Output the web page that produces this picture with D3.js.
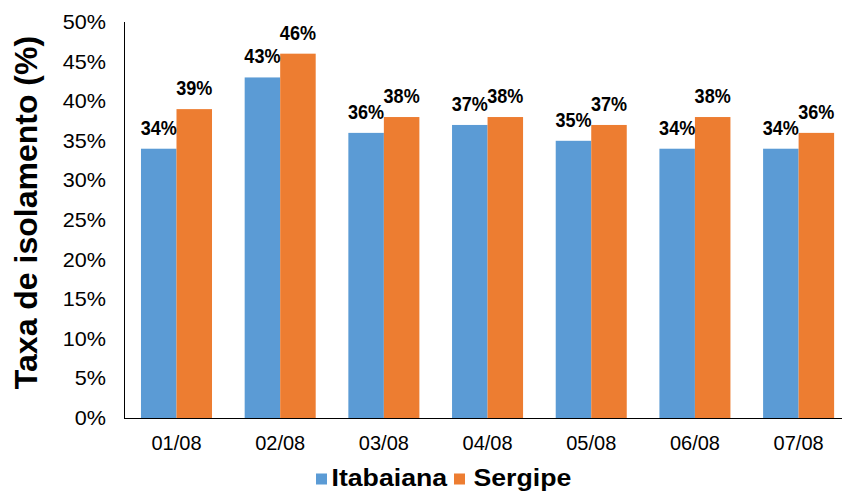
<!DOCTYPE html>
<html>
<head>
<meta charset="utf-8">
<script src="https://cdn.jsdelivr.net/npm/d3@7"></script>
<style>
  html, body { margin: 0; padding: 0; background: #fff; }
  svg { display: block; font-family: "Liberation Sans", Arial, sans-serif; }
</style>
</head>
<body>
<svg id="chart" width="842" height="492"></svg>
<script>
const categories = ["01/08", "02/08", "03/08", "04/08", "05/08", "06/08", "07/08"];
const seriesNames = ["Itabaiana", "Sergipe"];
const itabaiana = [34, 43, 36, 37, 35, 34, 34];
const sergipe = [39, 46, 38, 38, 37, 38, 36];
const yTicks = [0, 5, 10, 15, 20, 25, 30, 35, 40, 45, 50];
const colors = ["#5B9BD5", "#ED7D31"];

const svg = d3.select("#chart");
const values = [itabaiana, sergipe];

const x0 = d3.scaleBand().domain(categories).range([124.6, 850.5])
  .paddingInner(0.315).paddingOuter(0.158);
const x1 = d3.scaleBand().domain(seriesNames).range([0, x0.bandwidth()]);
const y = d3.scaleLinear().domain([0, 50]).range([418, 22]);

// Y tick labels
const yAxis = d3.axisLeft(y).tickValues(yTicks).tickFormat(d => d + "%").tickSize(0).tickPadding(0);
const gy = svg.append("g").attr("transform", "translate(106,0)").call(yAxis);
gy.select(".domain").remove();
gy.selectAll(".tick").attr("transform", null);
gy.selectAll("text")
  .attr("font-size", 20).attr("fill", "#000")
  .attr("font-family", "Liberation Sans, Arial, sans-serif")
  .attr("x", 0).attr("y", 0).attr("dy", "0.35em")
  .attr("transform", d => `translate(0,${y(d)}) scale(1.08,1)`);

// X tick labels
const xAxis = d3.axisBottom(x0).tickSize(0).tickPadding(0);
const gx = svg.append("g").attr("transform", "translate(0,418)").call(xAxis);
gx.select(".domain").remove();
gx.selectAll("text")
  .attr("font-size", 20).attr("fill", "#000")
  .attr("font-family", "Liberation Sans, Arial, sans-serif")
  .attr("y", 32).attr("dy", null);

// Bars
const groups = svg.append("g").selectAll("g")
  .data(categories).join("g")
  .attr("transform", d => `translate(${x0(d)},0)`);

groups.selectAll("rect")
  .data((d, i) => seriesNames.map((s, k) => ({ s, v: values[k][i], k })))
  .join("rect")
  .attr("x", d => x1(d.s))
  .attr("y", d => y(d.v))
  .attr("width", x1.bandwidth())
  .attr("height", d => y(0) - y(d.v))
  .attr("fill", d => colors[d.k]);

// Data labels
groups.selectAll("text.lbl")
  .data((d, i) => seriesNames.map((s, k) => ({ s, v: values[k][i], k })))
  .join("text")
  .attr("class", "lbl")
  .attr("text-anchor", "middle")
  .attr("font-weight", "bold")
  .attr("font-size", 21)
  .attr("fill", "#000")
  .attr("transform", d => `translate(${x1(d.s) + x1.bandwidth() / 2},${y(d.v) - 14}) scale(0.86,1)`)
  .text(d => d.v + "%");

// Axis lines
svg.append("line").attr("x1", 124.5).attr("x2", 124.5).attr("y1", y(50)).attr("y2", y(0) + 0.5)
  .attr("stroke", "#000").attr("stroke-width", 1);
svg.append("line").attr("x1", 124).attr("x2", 842).attr("y1", y(0) + 0.5).attr("y2", y(0) + 0.5)
  .attr("stroke", "#000").attr("stroke-width", 1);

// Y title
svg.append("text")
  .attr("transform", "translate(37,212.5) rotate(-90)")
  .attr("text-anchor", "middle")
  .attr("font-weight", "bold")
  .attr("font-size", 32)
  .attr("fill", "#000")
  .text("Taxa de isolamento (%)");

// Legend
const legendX = [316, 454];
const legendTextX = [331.5, 473.5];
const legend = svg.append("g");
seriesNames.forEach((s, k) => {
  legend.append("rect").attr("x", legendX[k]).attr("y", 473.5).attr("width", 11).attr("height", 11)
    .attr("fill", colors[k]);
  legend.append("text")
    .attr("transform", `translate(${legendTextX[k]},486) scale(1.16,1)`)
    .attr("font-weight", "bold").attr("font-size", 23).attr("fill", "#000")
    .text(s);
});
</script>
</body>
</html>
